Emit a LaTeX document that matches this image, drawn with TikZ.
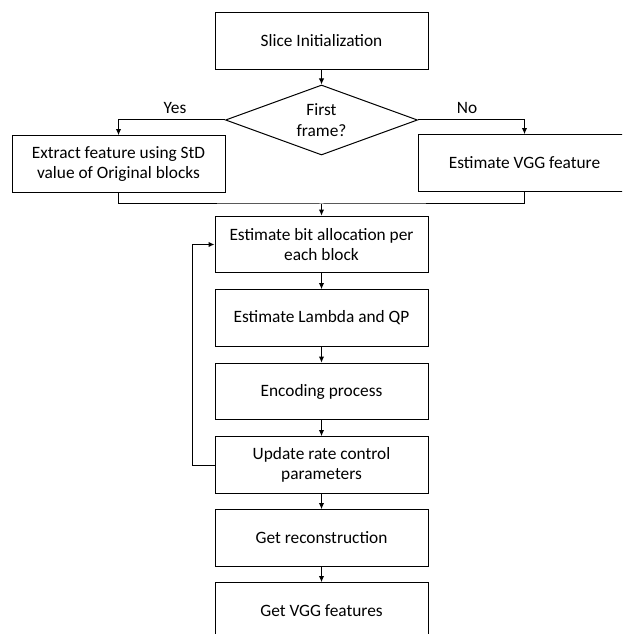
\documentclass[tikz,border=0pt]{standalone}
\usepackage{fontspec}
\setmainfont{Carlito}
\usetikzlibrary{shapes.geometric,arrows.meta,calc}

\begin{document}
\begin{tikzpicture}[x=0.75pt,y=-0.75pt,every text node part/.style={align=center},
	font=\fontsize{13}{15.5}\selectfont,line width=0.75pt,>={Latex[length=4.5pt,width=4pt]}]
	\tikzstyle{block}=[rectangle,draw,minimum width=159.75pt,minimum height=42.5pt,
						inner sep=2pt]
	\tikzstyle{decision}=[diamond,draw,minimum width=144pt,minimum height=52.5pt,
						inner sep=0pt,aspect=2.7]

	\useasboundingbox (0,0) rectangle (622,634);
	\clip (0,0) rectangle (622,634);

	% start and test
	\node[block] (init) at (321.5,41) {Slice Initialization};
	\node[decision] (first) at (321.5,120) {First\\frame?};

	% branches
	\node[block] (yes) at (118.5,164) {Extract feature using StD\\value of Original blocks};
	\node[block] (no) at (524.5,163) {Estimate VGG feature};
	\node (yeslbl) at (175,108) {Yes};
	\node (nolbl) at (467,108) {No};

	% main column
	\foreach \name/\y/\txt in {bit/244.5/{Estimate bit allocation per\\each block},
			lam/318/{Estimate Lambda and QP}, enc/391.5/{Encoding process},
			upd/465/{Update rate control\\parameters}, rec/538/{Get reconstruction},
			vgg/611/{Get VGG features}}
		\node[block] (\name) at (321.5,\y) {\txt};

	% edges
	\coordinate (merge) at (321.5,204);
	\draw [->] (init) -- (first);
	\draw [->] (first.west) -| (yes.north);
	\draw [->] (first.east) -| (no.north);
	\draw (yes.south) |- (merge) -| (no.south);
	\draw [->] (merge) -- (bit);

	\foreach \a/\b in {bit/lam, lam/enc, enc/upd, upd/rec, rec/vgg}
		\draw [->] (\a) -- (\b);

	\draw [->] (upd.west) -- ++(-22,0) |- (bit.west);
\end{tikzpicture}
\end{document}
